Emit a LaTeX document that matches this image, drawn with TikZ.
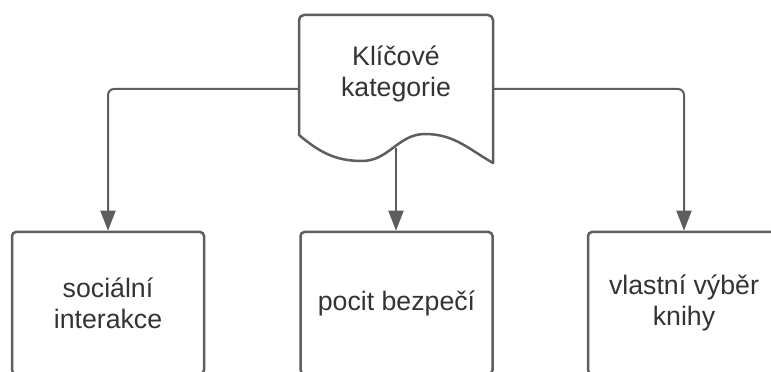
\documentclass[tikz,border=0pt]{standalone}
\usepackage{fontspec}
\setmainfont{Liberation Sans}
\usetikzlibrary{arrows.meta}
\definecolor{edgegray}{HTML}{5E5E5E}
\definecolor{textgray}{HTML}{333333}
\newcommand\lbl{\fontsize{26.7}{31}\selectfont}
\tikzset{
  box/.style={draw=edgegray, line width=2.5pt, rounded corners=4pt,
    minimum width=192pt, minimum height=142pt, align=center,
    text=textgray, font=\lbl},
  docline/.style={draw=edgegray, line width=2.5pt, line join=round},
  conn/.style={draw=edgegray, line width=2pt, rounded corners=6pt,
    -{Triangle[length=20pt,width=15pt]}},
}

\begin{document}
\begin{tikzpicture}[x=1pt,y=1pt]
  \useasboundingbox (0,0) rectangle (771,372);
  \clip (0,0) rectangle (771,372);

  % document shape
  \draw[docline] (299,237) [rounded corners=5pt] -- (299,357) -- (493,357)
    [sharp corners] -- (493,209)
    to[out=150,in=0] (425,238) to[out=180,in=0] (362,211)
    to[out=180,in=-40] (299,237) -- cycle;
  \node[align=center, text=textgray, font=\lbl] (key) at (396,298)
    {Klíčové\\kategorie};
  \coordinate (kl) at (299,283);
  \coordinate (kr) at (493,283);
  \coordinate (wave) at (396,224);

  \node[box] (soc)   at (108,69)   {sociální\\interakce};
  \node[box] (pocit) at (396.5,69) {pocit bezpečí};
  \node[box] (vyber) at (684,69)   {vlastní výběr\\knihy};

  \draw[conn] (kl) -| (soc.north);
  \draw[conn] (wave) -- (wave |- pocit.north);
  \draw[conn] (kr) -| (vyber.north);
\end{tikzpicture}
\end{document}
